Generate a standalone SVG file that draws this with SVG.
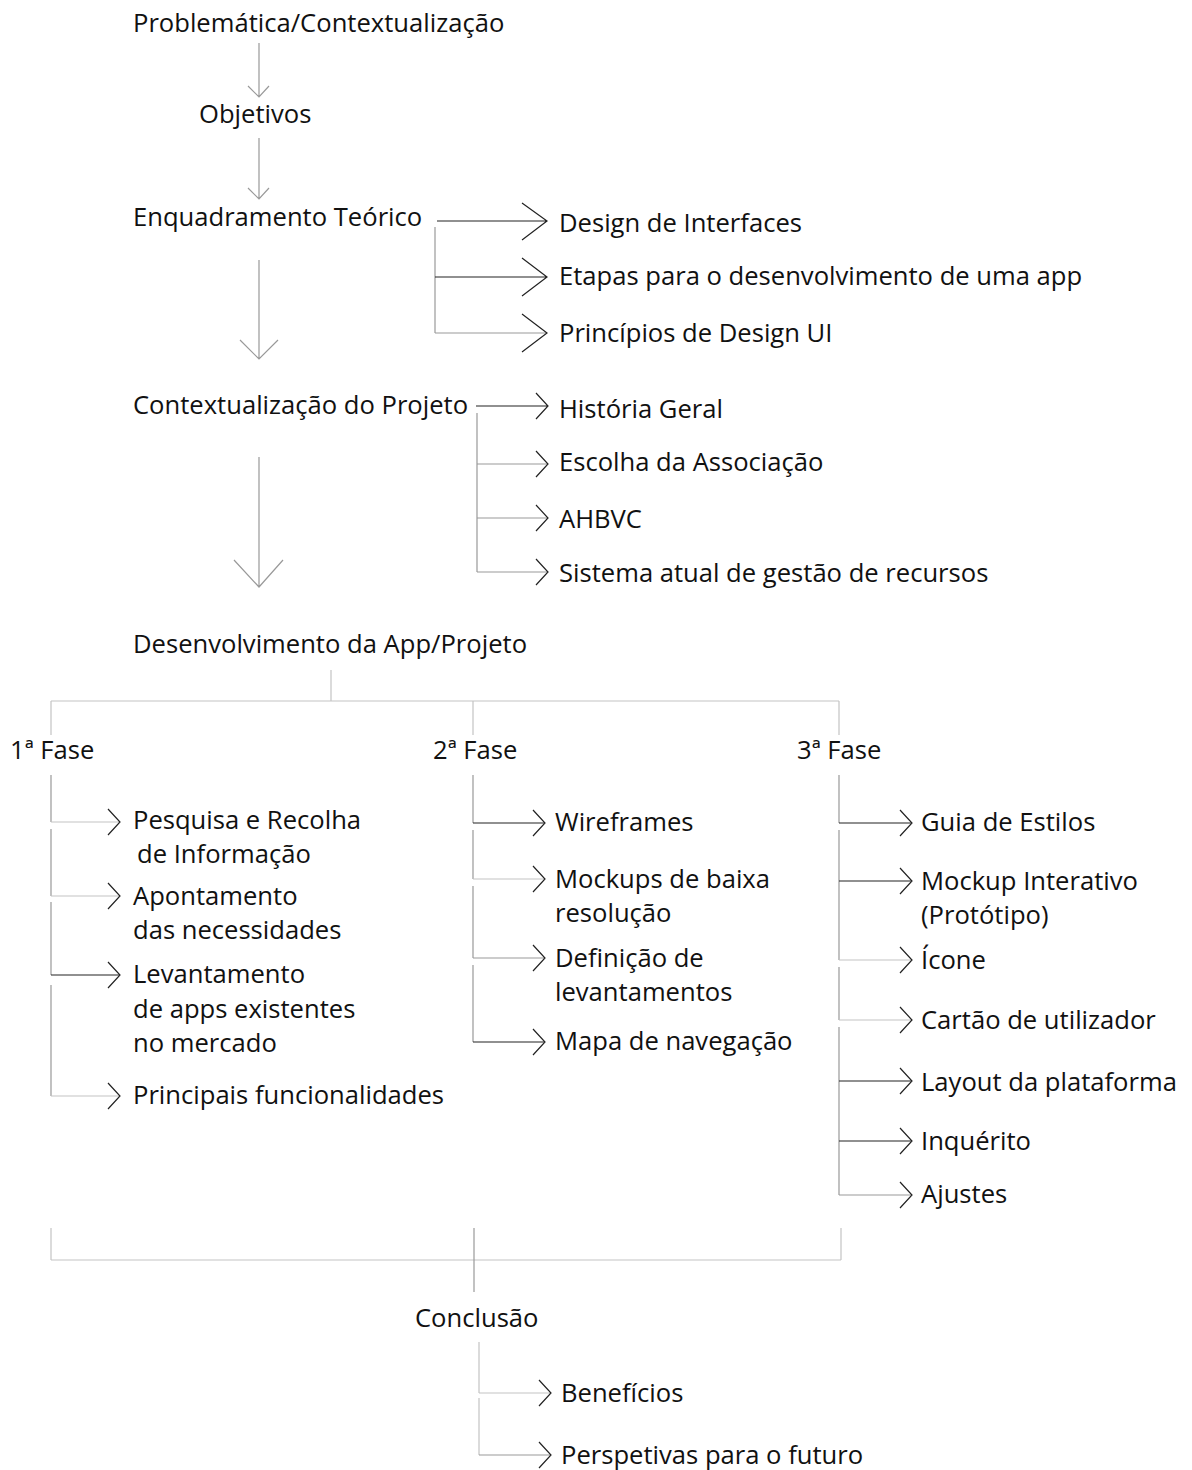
<svg xmlns="http://www.w3.org/2000/svg" width="1192" height="1470" viewBox="0 0 1192 1470">
<style>
text{font-family:"Open Sans","Noto Sans","Liberation Sans",sans-serif;font-size:25.6px;fill:#111}
.k{stroke:#222;stroke-width:1.2;fill:none}
.g{stroke:#999;stroke-width:1.2;fill:none}
.l{stroke:#c4c4c4;stroke-width:1.2;fill:none}
</style>
<rect width="1192" height="1470" fill="#fff"/>
<g id="connectors">
<path class="g" d="M259,43V97M248,86L259,97L269,86"/>
<path class="g" d="M259,138V199M248,188L259,199L269,188"/>
<path class="g" d="M259,260V359M240,340L259,359L278,340"/>
<path class="g" d="M259,457V587M234,560L259,587L283,560"/>
<path class="k" d="M437,221H547M522,203L547,221L522,240"/>
<path class="g" d="M435,227V333"/>
<path class="k" d="M435,277H547M522,258L547,277L522,296"/>
<path class="g" d="M435,333H547"/><path class="k" d="M522,314L547,333L522,352"/>
<path class="k" d="M476,406H548M536,393L548,406L536,419"/>
<path class="g" d="M477,413V572M477,464H548M477,518H548M477,572H548"/>
<path class="k" d="M536,451L548,464L536,477M536,505L548,518L536,531M536,559L548,572L536,585"/>
<path class="l" d="M331,670V701M51,701H839M51,701V735M473,701V735M839,701V735"/>
<path class="g" d="M51,775V822M51,829V896M51,902V975M51,985V1096"/>
<path class="l" d="M51,822H119M51,896H119M51,1096H119"/>
<path class="k" d="M51,975H119"/>
<path class="k" d="M108,809L120,822L108,835M108,883L120,896L108,909M108,962L120,975L108,988M108,1083L120,1096L108,1109"/>
<path class="g" d="M473,775V823M473,830V879M473,886V958M473,965V1042"/>
<path class="k" d="M473,823H544M473,1042H544"/>
<path class="l" d="M473,879H544"/>
<path class="g" d="M473,958H544"/>
<path class="k" d="M533,810L545,823L533,836M533,866L545,879L533,892M533,945L545,958L533,971M533,1029L545,1042L533,1055"/>
<path class="g" d="M839,775V823M839,830V960M839,967V1020M839,1027V1195"/>
<path class="k" d="M839,823H911M839,881H911M839,1081H911M839,1141H911"/>
<path class="l" d="M839,960H911M839,1020H911"/>
<path class="g" d="M839,1195H911"/>
<path class="k" d="M900,810L912,823L900,836M900,868L912,881L900,894M900,947L912,960L900,973M900,1007L912,1020L900,1033M900,1068L912,1081L900,1094M900,1128L912,1141L900,1154M900,1182L912,1195L900,1208"/>
<path class="l" d="M51,1228V1260M841,1228V1260M51,1260H841"/>
<path class="g" d="M474,1228V1292"/>
<path class="l" d="M479,1342V1393M479,1398V1455M479,1393H550"/>
<path class="g" d="M479,1455H550"/>
<path class="k" d="M539,1380L551,1393L539,1406M539,1442L551,1455L539,1468"/>
</g>
<g id="n-problematica"><text x="133" y="32">Problemática/Contextualização</text></g>
<g id="n-objetivos"><text x="199" y="123">Objetivos</text></g>
<g id="n-enquadramento"><text x="133" y="226">Enquadramento Teórico</text></g>
<g id="n-design-interfaces"><text x="559" y="232">Design de Interfaces</text></g>
<g id="n-etapas"><text x="559" y="285">Etapas para o desenvolvimento de uma app</text></g>
<g id="n-principios"><text x="559" y="342">Princípios de Design UI</text></g>
<g id="n-contextualizacao"><text x="133" y="414">Contextualização do Projeto</text></g>
<g id="n-historia"><text x="559" y="418">História Geral</text></g>
<g id="n-escolha"><text x="559" y="471">Escolha da Associação</text></g>
<g id="n-ahbvc"><text x="559" y="528">AHBVC</text></g>
<g id="n-sistema"><text x="559" y="582">Sistema atual de gestão de recursos</text></g>
<g id="n-desenvolvimento"><text x="133" y="653">Desenvolvimento da App/Projeto</text></g>
<g id="n-fase1"><text x="10" y="759">1ª Fase</text></g>
<g id="n-fase2"><text x="433" y="759">2ª Fase</text></g>
<g id="n-fase3"><text x="797" y="759">3ª Fase</text></g>
<g id="n-pesquisa"><text x="133" y="829">Pesquisa e Recolha</text><text x="137" y="863">de Informação</text></g>
<g id="n-apontamento"><text x="133" y="905">Apontamento</text><text x="133" y="939">das necessidades</text></g>
<g id="n-levantamento"><text x="133" y="983">Levantamento</text><text x="133" y="1018">de apps existentes</text><text x="133" y="1052">no mercado</text></g>
<g id="n-principais"><text x="133" y="1104">Principais funcionalidades</text></g>
<g id="n-wireframes"><text x="555" y="831">Wireframes</text></g>
<g id="n-mockups"><text x="555" y="888">Mockups de baixa</text><text x="555" y="922">resolução</text></g>
<g id="n-definicao"><text x="555" y="967">Definição de</text><text x="555" y="1001">levantamentos</text></g>
<g id="n-mapa"><text x="555" y="1050">Mapa de navegação</text></g>
<g id="n-guia"><text x="921" y="831">Guia de Estilos</text></g>
<g id="n-mockup-int"><text x="921" y="890">Mockup Interativo</text><text x="921" y="924">(Protótipo)</text></g>
<g id="n-icone"><text x="921" y="969">Ícone</text></g>
<g id="n-cartao"><text x="921" y="1029">Cartão de utilizador</text></g>
<g id="n-layout"><text x="921" y="1091">Layout da plataforma</text></g>
<g id="n-inquerito"><text x="921" y="1150">Inquérito</text></g>
<g id="n-ajustes"><text x="921" y="1203">Ajustes</text></g>
<g id="n-conclusao"><text x="415" y="1327">Conclusão</text></g>
<g id="n-beneficios"><text x="561" y="1402">Benefícios</text></g>
<g id="n-perspetivas"><text x="561" y="1464">Perspetivas para o futuro</text></g>
</svg>
